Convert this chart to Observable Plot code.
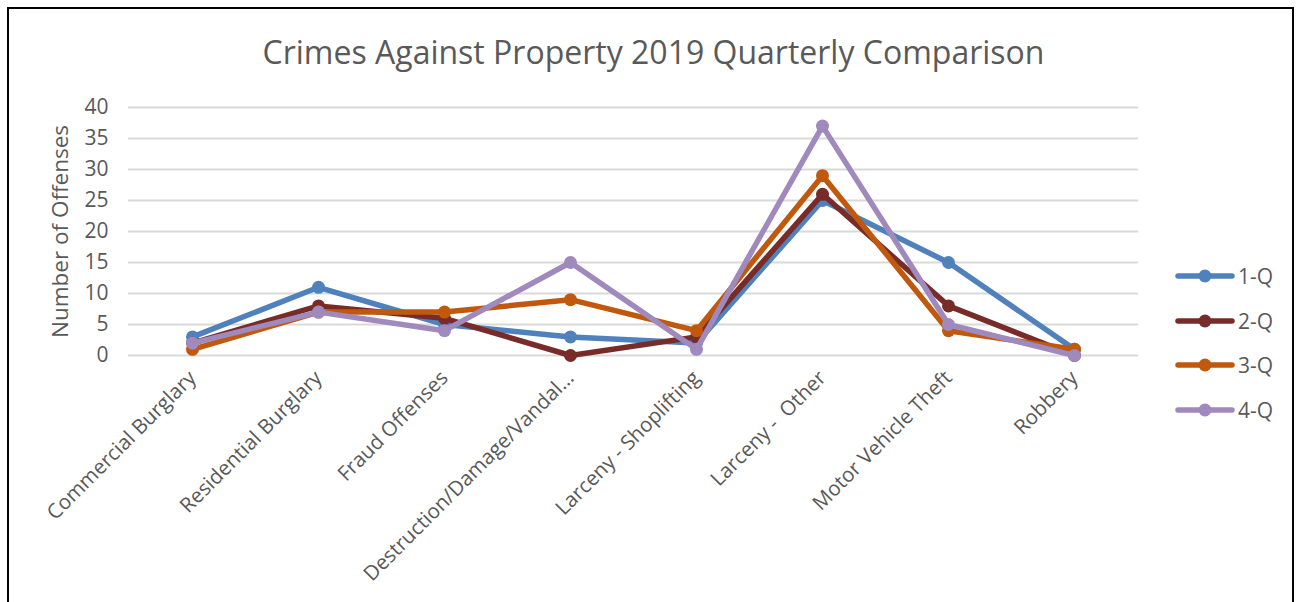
<!DOCTYPE html>
<html>
<head>
<meta charset="utf-8">
<script src="https://cdn.jsdelivr.net/npm/d3@7"></script>
<script src="https://cdn.jsdelivr.net/npm/@observablehq/plot@0.6"></script>
<style>
  html, body { margin: 0; padding: 0; background: #fff; }
  body { width: 1297px; height: 602px; position: relative; overflow: hidden; font-family: "Open Sans", sans-serif; }
  #frame { position: absolute; left: 7px; top: 7px; width: 1287px; height: 620px; border: 2px solid #000; box-sizing: border-box; }
  #title { position: absolute; left: 0; width: 1307px; top: 33px; text-align: center; font-size: 32px; color: #595959; white-space: nowrap; line-height: 1.2; }
  #chart { position: absolute; left: 0; top: 0; }
  #legend { position: absolute; left: 1175px; top: 254px; }
  .li { height: 44.5px; display: flex; align-items: center; font-size: 21px; color: #595959; }
  .li svg { margin-right: 2px; }
</style>
</head>
<body>
<div id="frame"></div>
<div id="title">Crimes Against Property 2019 Quarterly Comparison</div>
<div id="chart"></div>
<div id="legend"></div>
<script>
const categories = ["Commercial Burglary", "Residential Burglary", "Fraud Offenses", "Destruction/Damage/Vandal...", "Larceny - Shoplifting", "Larceny -  Other", "Motor Vehicle Theft", "Robbery"];
const seriesNames = ["1-Q", "2-Q", "3-Q", "4-Q"];
const q1 = [3, 11, 5, 3, 2, 25, 15, 1];
const q2 = [2, 8, 6, 0, 3, 26, 8, 0];
const q3 = [1, 7, 7, 9, 4, 29, 4, 1];
const q4 = [2, 7, 4, 15, 1, 37, 5, 0];
const seriesColors = ["#4f81bd", "#772c2a", "#c0590e", "#9f89bd"];
const yTicks = [0, 5, 10, 15, 20, 25, 30, 35, 40];

const allSeries = [q1, q2, q3, q4];
const marks = [
  Plot.gridY(yTicks, { stroke: "#d9d9d9", strokeOpacity: 1, strokeWidth: 2 }),
  Plot.axisY(yTicks, { tickSize: 0, tickPadding: 20, fontSize: 21, fill: "#595959", label: null }),
  Plot.axisX({ tickSize: 0, tickPadding: 19, tickRotate: -45, fontSize: 20.5, fill: "#595959", label: null }),
  Plot.text(["Number of Offenses"], { frameAnchor: "left", textAnchor: "middle", dx: -68, rotate: -90, fontSize: 22.5, fill: "#595959" })
];
allSeries.forEach((vals, i) => {
  const data = categories.map((c, j) => ({ cat: c, value: vals[j] }));
  marks.push(Plot.line(data, { x: "cat", y: "value", stroke: seriesColors[i], strokeWidth: 5.5, strokeLinejoin: "round" }));
  marks.push(Plot.dot(data, { x: "cat", y: "value", fill: seriesColors[i], r: 6.5, stroke: "none" }));
});

const plot = Plot.plot({
  width: 1297,
  height: 602,
  marginLeft: 128,
  marginRight: 159,
  marginTop: 107,
  marginBottom: 247,
  x: { type: "point", domain: categories, padding: 0.5 },
  y: { domain: [0, 40] },
  style: { background: "transparent", fontFamily: "'Open Sans', sans-serif" },
  marks
});
document.getElementById("chart").appendChild(plot);

const legend = document.getElementById("legend");
seriesNames.forEach((name, i) => {
  const row = document.createElement("div");
  row.className = "li";
  row.innerHTML = `<svg width="61" height="16"><line x1="3" x2="57" y1="8" y2="8" stroke="${seriesColors[i]}" stroke-width="5.5" stroke-linecap="round"/><circle cx="30" cy="8" r="6.5" fill="${seriesColors[i]}"/></svg><span>${name}</span>`;
  legend.appendChild(row);
});
</script>
</body>
</html>
